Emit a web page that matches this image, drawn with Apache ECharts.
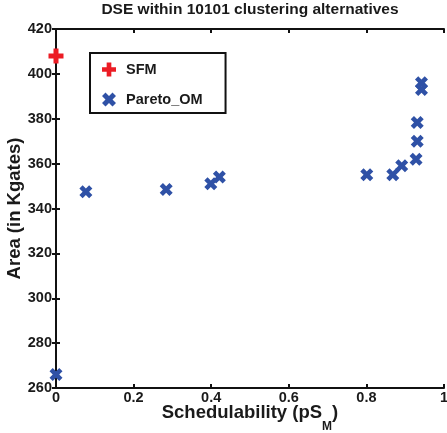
<!DOCTYPE html>
<html>
<head>
<meta charset="utf-8">
<script src="https://cdn.jsdelivr.net/npm/echarts@6/dist/echarts.min.js"></script>
<style>
html,body{margin:0;padding:0;background:#fff;}
#chart{width:447px;height:433px;}
</style>
</head>
<body>
<div id="chart"></div>
<script>
// ---- data ----
const titleText = 'DSE within 10101 clustering alternatives';
const xTitle = 'Schedulability (pS';
const xTitleSub = 'M';
const yTitle = 'Area (in Kgates)';
const seriesNames = ['SFM', 'Pareto_OM'];
const sfmX = [0];
const sfmY = [408];
const paretoX = [0, 0.077, 0.284, 0.399, 0.421, 0.801, 0.868, 0.891, 0.928, 0.931, 0.931, 0.942, 0.942];
const paretoY = [266, 347.5, 348.5, 351, 354, 355, 355, 359, 362, 370, 378.3, 393, 396];
const xMin = 0, xMax = 1, xStep = 0.2;
const yMin = 260, yMax = 420, yStep = 20;

// ---- styling ----
const FONT = '"Liberation Sans", Arial, sans-serif';
const TXT = '#1a1a1a';
const plusPath = 'path://M5,0H10V5H15V10H10V15H5V10H0V5H5Z';
const xPath = 'path://M0,2.5L2.5,0L5,2.5L7.5,0L10,2.5L7.5,5L10,7.5L7.5,10L5,7.5L2.5,10L0,7.5L2.5,5Z';
const RED = '#ec1c24';
const BLUE = '#2f51a6';

const zip = (xs, ys) => xs.map((x, i) => [x, ys[i]]);

const axisLineStyle = { show: true, lineStyle: { color: '#111', width: 2 } };
const tickStyle = { show: true, inside: true, length: 4, lineStyle: { color: '#111', width: 2 } };

const chart = echarts.init(document.getElementById('chart'), null, { renderer: 'canvas' });
chart.setOption({
  animation: false,
  backgroundColor: '#fff',
  title: {
    text: titleText,
    left: 250, top: 2, textAlign: 'center', padding: 0,
    textStyle: { fontFamily: FONT, fontWeight: 'bold', fontSize: 15.5, color: TXT }
  },
  grid: { left: 56, right: 3, top: 29, bottom: 45, containLabel: false, outerBoundsMode: 'none' },
  legend: {
    orient: 'vertical', left: 90, top: 53,
    borderColor: '#111', borderWidth: 2,
    padding: [9, 23, 6, 12],
    itemWidth: 14, itemHeight: 14, itemGap: 15,
    textStyle: { fontFamily: FONT, fontWeight: 'bold', fontSize: 14.5, color: TXT, padding: [0, 0, 0, 5] },
    data: [
      { name: seriesNames[0], icon: plusPath },
      { name: seriesNames[1], icon: xPath }
    ]
  },
  xAxis: [
    {
      type: 'value', position: 'bottom', min: xMin, max: xMax, interval: xStep,
      axisLine: axisLineStyle, axisTick: tickStyle, splitLine: { show: false },
      axisLabel: { margin: 2, fontFamily: FONT, fontWeight: 'bold', fontSize: 14.5, color: TXT },
      name: '{a|' + xTitle + '}{s|' + xTitleSub + '}{a|)}',
      nameLocation: 'middle', nameGap: 15, nameMoveOverlap: false,
      nameTextStyle: {
        rich: {
          a: { fontFamily: FONT, fontWeight: 'bold', fontSize: 18.5, color: TXT, lineHeight: 22, verticalAlign: 'top' },
          s: { fontFamily: FONT, fontWeight: 'bold', fontSize: 12, color: TXT, lineHeight: 12, padding: [18, 0, 0, 0], verticalAlign: 'top' }
        }
      }
    },
    {
      type: 'value', position: 'top', min: xMin, max: xMax, interval: xStep,
      axisLine: axisLineStyle, axisTick: tickStyle, splitLine: { show: false },
      axisLabel: { show: false }
    }
  ],
  yAxis: [
    {
      type: 'value', position: 'left', min: yMin, max: yMax, interval: yStep,
      axisLine: axisLineStyle, axisTick: tickStyle, splitLine: { show: false },
      axisLabel: { margin: 4, fontFamily: FONT, fontWeight: 'bold', fontSize: 14.5, color: TXT },
      name: yTitle, nameLocation: 'middle', nameGap: 32, nameRotate: 90, nameMoveOverlap: false,
      nameTextStyle: { fontFamily: FONT, fontWeight: 'bold', fontSize: 18.5, color: TXT }
    },
    {
      type: 'value', position: 'right', min: yMin, max: yMax, interval: yStep,
      axisLine: axisLineStyle, axisTick: tickStyle, splitLine: { show: false },
      axisLabel: { show: false }
    }
  ],
  series: [
    {
      name: seriesNames[0], type: 'scatter', xAxisIndex: 0, yAxisIndex: 0,
      symbol: plusPath, symbolSize: 15, z: 3,
      itemStyle: { color: RED, opacity: 1 },
      data: zip(sfmX, sfmY)
    },
    {
      name: seriesNames[1], type: 'scatter', xAxisIndex: 0, yAxisIndex: 0,
      symbol: xPath, symbolSize: 13, z: 3,
      itemStyle: { color: BLUE, opacity: 1 },
      data: zip(paretoX, paretoY)
    }
  ]
});
</script>
</body>
</html>
